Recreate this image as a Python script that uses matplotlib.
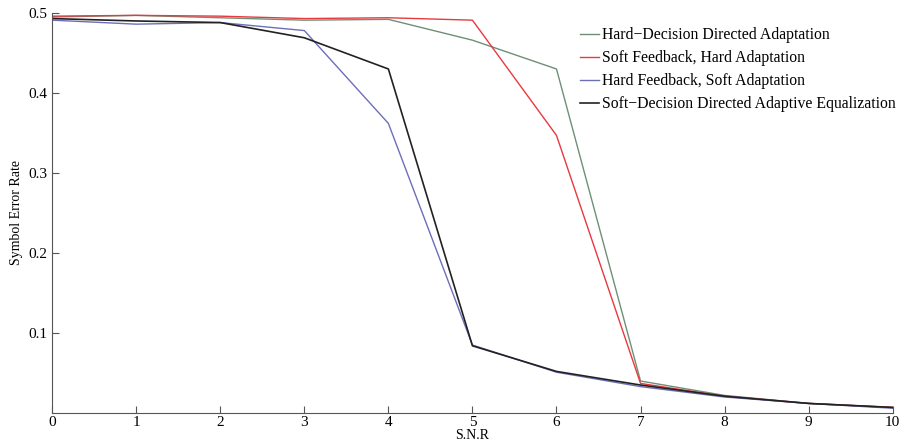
import matplotlib.pyplot as plt

plt.rcParams["font.family"] = ["Liberation Serif", "DejaVu Serif"]

snr = [0, 1, 2, 3, 4, 5, 6, 7, 8, 9, 10]

hard_dd = [0.495, 0.497, 0.494, 0.491, 0.492, 0.466, 0.430, 0.040, 0.022, 0.012, 0.007]
soft_fb_hard_ad = [0.496, 0.497, 0.496, 0.493, 0.494, 0.491, 0.347, 0.037, 0.021, 0.012, 0.007]
hard_fb_soft_ad = [0.491, 0.486, 0.488, 0.478, 0.362, 0.085, 0.051, 0.033, 0.020, 0.012, 0.006]
soft_dd = [0.493, 0.490, 0.488, 0.469, 0.430, 0.084, 0.052, 0.035, 0.021, 0.012, 0.007]

labels = [
    "Hard\u2212Decision Directed Adaptation",
    "Soft Feedback, Hard Adaptation",
    "Hard Feedback, Soft Adaptation",
    "Soft\u2212Decision Directed Adaptive Equalization",
]

fig = plt.figure(figsize=(8.99, 4.47), dpi=100)
ax = fig.add_axes([0.058, 0.076, 0.935, 0.895])

ax.plot(snr, hard_dd, color="#6f8f78", lw=1.0, label=labels[0])
ax.plot(snr, soft_fb_hard_ad, color="#e8393f", lw=1.0, label=labels[1])
ax.plot(snr, hard_fb_soft_ad, color="#6c6fb8", lw=1.0, label=labels[2])
ax.plot(snr, soft_dd, color="#222222", lw=1.2, label=labels[3])

ax.set_xlim(0, 10)
ax.set_ylim(0, 0.5)
ax.set_xticks(snr)
ax.set_yticks([0.1, 0.2, 0.3, 0.4, 0.5])
ax.set_yticklabels(["0.1", "0.2", "0.3", "0.4", "0.5"])
ax.tick_params(direction="in", length=5, labelsize=11, color="#555555")
ax.tick_params(axis="x", pad=2)
ax.spines["top"].set_visible(False)
ax.spines["right"].set_visible(False)
for s in ["left", "bottom"]:
    ax.spines[s].set_color("#555555")

ax.set_xlabel("S.N.R", fontsize=10, labelpad=0)
ax.set_ylabel("Symbol Error Rate", fontsize=10, labelpad=4)

ax.legend(loc="upper right", bbox_to_anchor=(1.02, 1.0), frameon=False,
          fontsize=11.3, handlelength=1.2, handletextpad=0.2, labelspacing=0.45)

fig.savefig("out.png", dpi=100)
